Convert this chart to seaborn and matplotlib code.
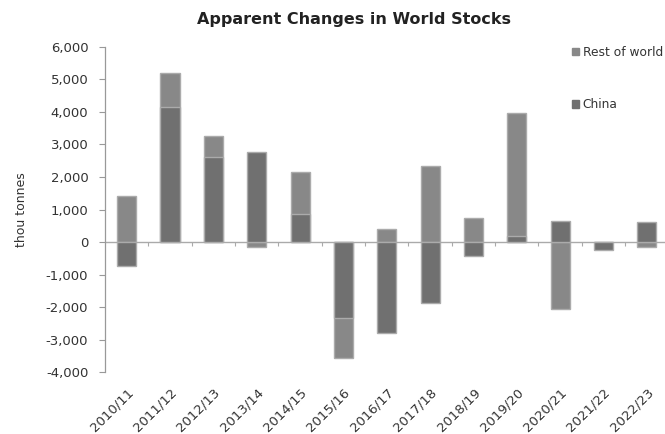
import numpy as np
import pandas as pd
import matplotlib
matplotlib.use("Agg")
import matplotlib.pyplot as plt
import seaborn as sns
from matplotlib.patches import Patch

seasons = ["2010/11", "2011/12", "2012/13", "2013/14", "2014/15", "2015/16", "2016/17",
           "2017/18", "2018/19", "2019/20", "2020/21", "2021/22", "2022/23"]
china = [-720, 4150, 2600, 2770, 860, -2330, -2800, -1860, -440, 200, 660, -240, 630]
rest_of_world = [1400, 1050, 650, -150, 1280, -1230, 400, 2350, 730, 3770, -2070, 0, -145]

CHINA_COL = "#707070"
ROW_COL = "#888888"
EDGE = "#ababab"

df = pd.DataFrame({"season": seasons, "China": china, "Rest of world": rest_of_world})
# stack like Excel: positives and negatives stack separately, China next to zero
same_sign = np.sign(df["China"]) == np.sign(df["Rest of world"])
df["outer"] = np.where(same_sign, df["China"] + df["Rest of world"], df["Rest of world"])

sns.set_theme(style="white")
plt.rcParams["font.family"] = ["DejaVu Sans"]

fig = plt.figure(figsize=(6.65, 4.34), dpi=100)
ax = fig.add_axes([105 / 665, (434 - 372.3) / 434, (668.5 - 105) / 665, (372.3 - 46.7) / 434])

sns.barplot(data=df, x="season", y="outer", order=seasons, color=ROW_COL, saturation=1,
            width=0.44, edgecolor=EDGE, linewidth=1, ax=ax)
sns.barplot(data=df, x="season", y="China", order=seasons, color=CHINA_COL, saturation=1,
            width=0.44, edgecolor=EDGE, linewidth=1, ax=ax)

ax.set_xlim(-0.5, len(seasons) - 0.5)
ax.set_ylim(-4000, 6000)
ax.set_yticks(range(-4000, 6001, 1000))
ax.set_yticklabels([f"{v:,}" for v in range(-4000, 6001, 1000)], fontsize=9.5, color="#333333")
ax.set_xticks(range(len(seasons)))
ax.set_xticklabels(seasons, rotation=45, ha="right", rotation_mode="anchor",
                   fontsize=9.5, color="#333333")
ax.tick_params(axis="x", length=0, pad=10)
ax.tick_params(axis="y", length=4, width=0.8, color="#999999", left=True, pad=8)

for s in ["top", "right", "bottom"]:
    ax.spines[s].set_visible(False)
ax.spines["left"].set_color("#999999")
ax.spines["left"].set_linewidth(0.9)

# zero line with category tick marks
ax.axhline(0, color="#aaaaaa", lw=1, zorder=0.5)
ax.vlines(np.arange(len(seasons)) + 0.5, -120, 0, color="#aaaaaa", lw=0.8, zorder=0.5)

ax.set_xlabel("")
ax.set_ylabel("thou tonnes", fontsize=9, color="#333333", labelpad=13)

fig.text(0.533, 0.955, "Apparent Changes in World Stocks", ha="center", va="center",
         fontsize=11.5, fontweight="heavy", color="#222222")

handles = [Patch(color=ROW_COL, label="Rest of world"), Patch(color=CHINA_COL, label="China")]
fig.legend(handles=handles, loc="upper left", bbox_to_anchor=(0.853, 0.905), frameon=False,
           fontsize=8.8, handlelength=0.55, handleheight=0.55, handletextpad=0.3,
           labelspacing=3.2, borderaxespad=0, labelcolor="#333333")

fig.savefig("out.png", dpi=100)
